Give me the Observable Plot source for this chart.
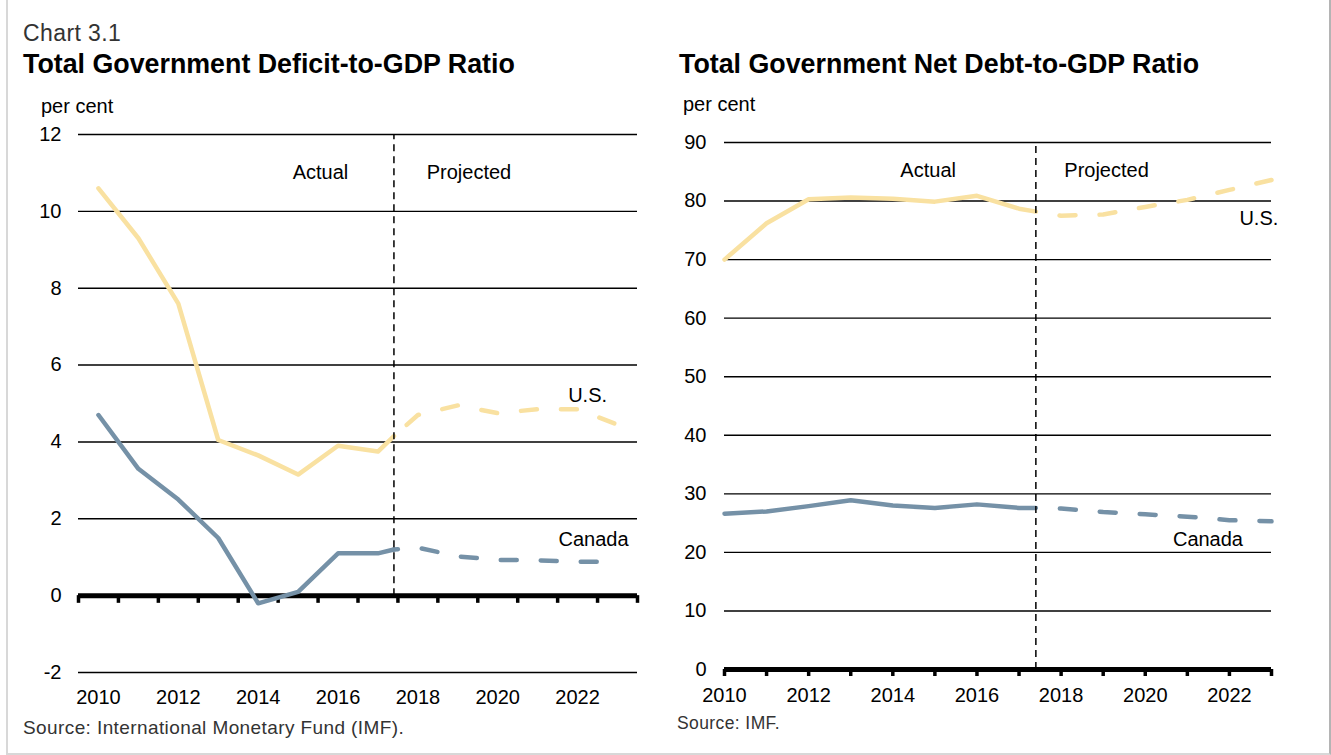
<!DOCTYPE html>
<html>
<head>
<meta charset="utf-8">
<script src="https://cdn.jsdelivr.net/npm/d3@7"></script>
<script src="https://cdn.jsdelivr.net/npm/@observablehq/plot@0.6"></script>
<style>
  body { margin: 0; width: 1331px; height: 755px; position: relative; overflow: hidden; background: #fff; font-family: "Liberation Sans", Arial, sans-serif; }
  .frame { position: absolute; left: 6px; top: -3px; width: 1325px; height: 758px; box-sizing: border-box; border: 2px solid #d8d8d8; border-right-color: #b4b4b4; }
  .t { position: absolute; white-space: nowrap; line-height: 1; color: #000; }
  .chartno { font-size: 23px; color: #333; letter-spacing: 0.4px; }
  .title { font-size: 26.8px; font-weight: bold; }
  .unit { font-size: 20px; }
  .src { color: #333; }
  .panel { position: absolute; top: 120px; }
</style>
</head>
<body>
<div class="frame"></div>
<div class="t chartno" style="left:23px; top:22px;">Chart 3.1</div>
<div class="t title" style="left:23px; top:51px;">Total Government Deficit-to-GDP Ratio</div>
<div class="t title" style="left:679px; top:51px;">Total Government Net Debt-to-GDP Ratio</div>
<div class="t unit" style="left:41px; top:96px;">per cent</div>
<div class="t unit" style="left:683px; top:94px;">per cent</div>
<div class="t src" style="left:23px; top:718px; font-size:19px; letter-spacing:0.4px;">Source: International Monetary Fund (IMF).</div>
<div class="t src" style="left:677px; top:715px; font-size:17.5px; letter-spacing:0.4px;">Source: IMF.</div>
<div id="left" class="panel" style="left:0px;"></div>
<div id="right" class="panel" style="left:660px;"></div>
<script>
// ---- data ----
const years = [2010, 2011, 2012, 2013, 2014, 2015, 2016, 2017, 2018, 2019, 2020, 2021, 2022, 2023];
const divider = 2017.4; // boundary between actual and projected
const actualYears = [2010, 2011, 2012, 2013, 2014, 2015, 2016, 2017, divider];
const projectedYears = [divider, 2018, 2019, 2020, 2021, 2022, 2023];
const tickYears = [2010, 2012, 2014, 2016, 2018, 2020, 2022];

// Deficit-to-GDP (per cent)
const deficitUSActual  = [10.6, 9.3, 7.6, 4.05, 3.65, 3.15, 3.9, 3.75, 4.15];
const deficitCanActual = [4.7, 3.3, 2.5, 1.5, -0.2, 0.1, 1.1, 1.1, 1.2];
const deficitUSProj    = [4.15, 4.7, 4.95, 4.75, 4.85, 4.85, 4.45];
const deficitCanProj   = [1.2, 1.25, 1.02, 0.93, 0.92, 0.88, 0.88];

// Net debt-to-GDP (per cent)
const debtUSActual  = [70.0, 76.2, 80.3, 80.6, 80.4, 79.9, 80.9, 78.7, 78.2];
const debtCanActual = [26.6, 27.0, 27.9, 28.9, 28.0, 27.6, 28.2, 27.6, 27.6];
const debtUSProj    = [78.2, 77.5, 77.7, 79.0, 80.2, 81.9, 83.6];
const debtCanProj   = [27.6, 27.5, 26.9, 26.5, 26.1, 25.5, 25.3];

const deficitTicks = [-2, 0, 2, 4, 6, 8, 10, 12];
const debtTicks = [0, 10, 20, 30, 40, 50, 60, 70, 80, 90];

// annotation anchors (data units)
const deficitNotes = [
  {text: "Actual", x: 2015.56, y: 11.0},
  {text: "Projected", x: 2019.28, y: 11.0},
  {text: "U.S.", x: 2022.25, y: 5.2},
  {text: "Canada", x: 2022.4, y: 1.45}
];
const debtNotes = [
  {text: "Actual", x: 2014.84, y: 85.2},
  {text: "Projected", x: 2019.08, y: 85.2},
  {text: "U.S.", x: 2022.7, y: 77.0},
  {text: "Canada", x: 2021.49, y: 22.2}
];

// ---- styling ----
const US_COLOR = "#F9E1A1";
const CAN_COLOR = "#7591A7";
const toRows = (xs, vs) => xs.map((x, i) => ({x, v: vs[i]}));

function panel({width, height, margins, xDomain, yDomain, yTicks, axisTicks, tickDepth, actual, projected, notes, xPad, yPad}) {
  const [mt, mr, mb, ml] = margins;
  return Plot.plot({
    width, height,
    marginTop: mt, marginRight: mr, marginBottom: mb, marginLeft: ml,
    style: {fontFamily: "Liberation Sans, Arial, sans-serif", fontSize: "20px", color: "#000", background: "transparent", overflow: "visible"},
    x: {domain: xDomain, ticks: tickYears, tickFormat: d => String(d), tickSize: 0, tickPadding: xPad, label: null},
    y: {domain: yDomain, ticks: yTicks, tickFormat: d => String(d), tickSize: 0, tickPadding: yPad, label: null},
    marks: [
      Plot.ruleY(yTicks.filter(t => t !== 0), {stroke: "#000", strokeWidth: 1.4}),
      Plot.ruleY([0], {stroke: "#000", strokeWidth: 5}),
      Plot.ruleX(axisTicks, {x: d => d, y1: 0, y2: tickDepth, stroke: "#000", strokeWidth: 3.5}),
      Plot.line(toRows(actualYears, actual.us), {x: "x", y: "v", stroke: US_COLOR, strokeWidth: 4.5, strokeLinejoin: "round"}),
      Plot.line(toRows(actualYears, actual.can), {x: "x", y: "v", stroke: CAN_COLOR, strokeWidth: 4.5, strokeLinejoin: "round"}),
      Plot.line(toRows(projectedYears, projected.us), {x: "x", y: "v", stroke: US_COLOR, strokeWidth: 4.5, strokeLinecap: "round", strokeDasharray: "16,24", strokeDashoffset: projected.usOffset}),
      Plot.line(toRows(projectedYears, projected.can), {x: "x", y: "v", stroke: CAN_COLOR, strokeWidth: 4.5, strokeLinecap: "round", strokeDasharray: "16,24", strokeDashoffset: projected.canOffset}),
      Plot.ruleX([divider], {x: d => d, y1: 0, y2: yDomain[1], stroke: "#000", strokeWidth: 1.5, strokeDasharray: "7,5"}),
      Plot.text(notes, {x: "x", y: "y", text: "text", fontSize: 20, fill: "#000", textAnchor: "middle"})
    ]
  });
}

const left = panel({
  width: 660, height: 600, margins: [14, 23, 48, 78],
  xDomain: [2009.5, 2023.5], yDomain: [-2, 12], yTicks: deficitTicks,
  axisTicks: years.map(y => y - 0.5).concat([years[years.length - 1] + 0.5]),
  tickDepth: -0.2, xPad: 17, yPad: 17,
  actual: {us: deficitUSActual, can: deficitCanActual},
  projected: {us: deficitUSProj, can: deficitCanProj, usOffset: 23, canOffset: 12},
  notes: deficitNotes
});
document.getElementById("left").appendChild(left);

const right = panel({
  width: 671, height: 600, margins: [22, 60, 51, 64],
  xDomain: [2010, 2023], yDomain: [0, 90], yTicks: debtTicks,
  axisTicks: years, tickDepth: -1.2, xPad: 18, yPad: 18,
  actual: {us: debtUSActual, can: debtCanActual},
  projected: {us: debtUSProj, can: debtCanProj, usOffset: 16, canOffset: 16},
  notes: debtNotes
});
document.getElementById("right").appendChild(right);
</script>
</body>
</html>
